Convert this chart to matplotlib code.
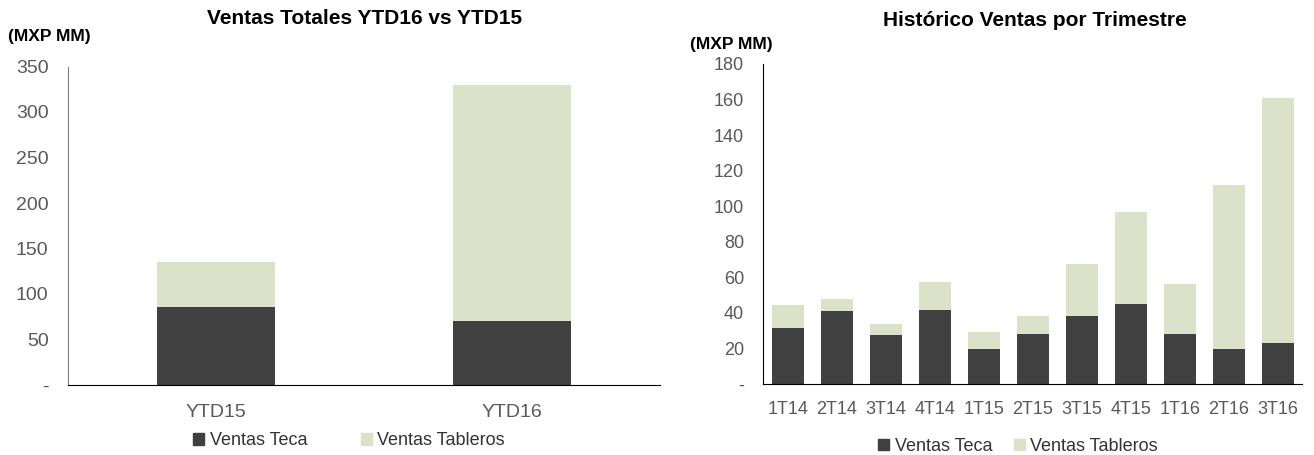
import matplotlib
matplotlib.use("Agg")
import matplotlib.pyplot as plt
from matplotlib.patches import Rectangle
from matplotlib.ticker import FuncFormatter, MultipleLocator

plt.rcParams["font.family"] = ["Liberation Sans", "DejaVu Sans"]

# YTD totals (MXP MM)
ytd_labels = ["YTD15", "YTD16"]
ytd_teca = [86, 70]
ytd_tableros = [49, 260]

# quarterly history (MXP MM)
quarters = ["1T14", "2T14", "3T14", "4T14", "1T15", "2T15", "3T15", "4T15", "1T16", "2T16", "3T16"]
q_teca = [31.6, 40.8, 27.7, 41.5, 19.6, 28.4, 38.1, 44.9, 27.9, 19.6, 22.8]
q_tableros = [13.1, 7.1, 6.1, 16.1, 9.8, 9.7, 29.2, 52.1, 28.6, 92.4, 137.8]

DARK = "#404040"
LIGHT = "#dce2c9"
TICK = "#595959"
W, H = 1314, 455


def px_axes(fig, x0, x1, ytop, ybot):
    return fig.add_axes([x0 / W, (H - ybot) / H, (x1 - x0) / W, (ybot - ytop) / H])


def dash_zero(v, pos):
    return "-" if v == 0 else f"{v:.0f}"


def style(ax, fs, left_color):
    for s in ("top", "right"):
        ax.spines[s].set_visible(False)
    ax.spines["left"].set_color(left_color)
    ax.spines["bottom"].set_color("black")
    ax.tick_params(length=0, colors=TICK, labelsize=fs)
    ax.yaxis.set_major_formatter(FuncFormatter(dash_zero))


def legend(ax, x, y, spacing, fs):
    handles = [Rectangle((0, 0), 1, 1, color=DARK), Rectangle((0, 0), 1, 1, color=LIGHT)]
    leg = ax.legend(handles, ["Ventas Teca", "Ventas Tableros"], loc="center",
                    bbox_to_anchor=(x, y), ncol=2, frameon=False, fontsize=fs,
                    handlelength=0.6, handleheight=0.6, handletextpad=0.3,
                    columnspacing=spacing)
    for t in leg.get_texts():
        t.set_color("#333333")


fig = plt.figure(figsize=(W / 100, H / 100), dpi=100)

# left chart
ax1 = px_axes(fig, 68, 660, 66.5, 385)
x1 = range(len(ytd_labels))
ax1.bar(x1, ytd_teca, width=0.4, color=DARK)
ax1.bar(x1, ytd_tableros, width=0.4, bottom=ytd_teca, color=LIGHT)
ax1.set_xlim(-0.5, 1.5)
ax1.set_ylim(0, 350)
ax1.yaxis.set_major_locator(MultipleLocator(50))
ax1.set_xticks(list(x1))
ax1.set_xticklabels(ytd_labels)
style(ax1, 14, "#7f7f7f")
ax1.tick_params(axis="x", pad=14)
ax1.tick_params(axis="y", pad=14)
legend(ax1, 0.475, -0.175, 3.0, 13)
fig.text(365 / W, 1 - 18 / H, "Ventas Totales YTD16 vs YTD15", ha="center", va="center",
         fontsize=15, fontweight="bold")
fig.text(8 / W, 1 - 37 / H, "(MXP MM)", ha="left", va="center", fontsize=12.5, fontweight="bold")

# right chart
ax2 = px_axes(fig, 763.5, 1302.5, 64, 384)
x2 = range(len(quarters))
ax2.bar(x2, q_teca, width=0.64, color=DARK)
ax2.bar(x2, q_tableros, width=0.64, bottom=q_teca, color=LIGHT)
ax2.set_xlim(-0.5, 10.5)
ax2.set_ylim(0, 180)
ax2.yaxis.set_major_locator(MultipleLocator(20))
ax2.set_xticks(list(x2))
ax2.set_xticklabels(quarters)
style(ax2, 13, "black")
ax2.tick_params(axis="x", pad=12)
ax2.tick_params(axis="y", pad=14)
legend(ax2, 0.472, -0.195, 1.2, 13)
fig.text(1035 / W, 1 - 20 / H, "Histórico Ventas por Trimestre", ha="center", va="center",
         fontsize=15, fontweight="bold")
fig.text(690 / W, 1 - 45 / H, "(MXP MM)", ha="left", va="center", fontsize=12.5, fontweight="bold")

fig.savefig("out.png", dpi=100)
